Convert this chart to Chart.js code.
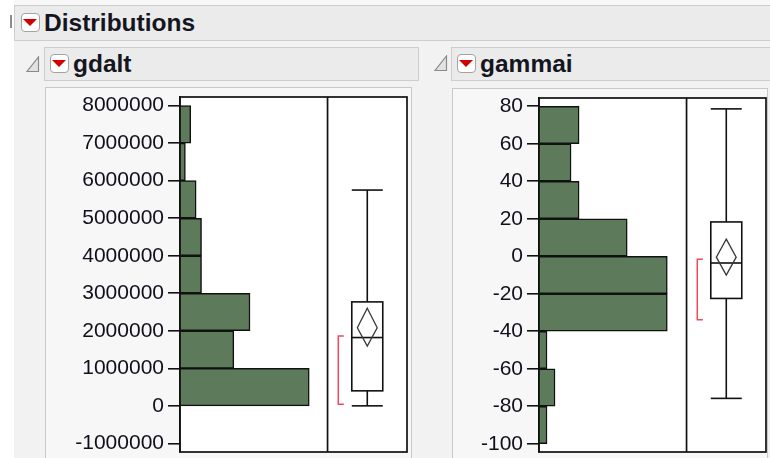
<!DOCTYPE html>
<html>
<head>
<meta charset="utf-8">
<script src="https://cdn.jsdelivr.net/npm/chart.js@4.4.0/dist/chart.umd.min.js"></script>
<style>
  html, body { margin: 0; padding: 0; }
  body {
    width: 770px; height: 458px; overflow: hidden; position: relative;
    background: #f2f2f2;
    font-family: "Liberation Sans", Arial, sans-serif;
  }
  .strip { position: absolute; left: 0; top: 0; width: 14px; height: 458px; background: #fff; }
  .topstrip { position: absolute; left: 0; top: 0; width: 770px; height: 5px; background: #f7f7f7; }
  .grip { position: absolute; left: 10px; top: 15px; width: 2px; height: 13px; background: #8c8c8c; }
  .hdr {
    position: absolute; box-sizing: border-box;
    background: #ebebeb; border: 1px solid #cdcdcd;
  }
  .title {
    position: absolute; font-weight: bold; font-size: 24.5px; line-height: 25px;
    color: #15151f; white-space: nowrap;
  }
  .menu {
    position: absolute; width: 19px; height: 19px; box-sizing: border-box;
    background: #fff; border: 1px solid #a3a3a3; border-radius: 4px;
  }
  .menu::after {
    content: ""; position: absolute; left: 1px; top: 5px;
    border-left: 7px solid transparent; border-right: 7px solid transparent;
    border-top: 7px solid #d20000;
  }
  .tri { position: absolute; }
  .panel {
    position: absolute; box-sizing: border-box;
    background: #f7f7f7; border: 1px solid #c8c8c8;
  }
  canvas { position: absolute; }
</style>
</head>
<body>
<div class="topstrip"></div>
<div class="strip"></div>
<div class="grip"></div>

<!-- outline headers -->
<div class="hdr" style="left:14px;top:5px;width:770px;height:36px"></div>
<div class="menu" style="left:21px;top:13px"></div>
<div class="title" style="left:44px;top:10px">Distributions</div>

<svg class="tri" style="left:26px;top:56px" width="14" height="17">
  <polygon points="12.5,1 12.5,15.5 1,15.5" fill="#e2e2e2" stroke="#8a8a8a" stroke-width="1.2"/>
</svg>
<div class="hdr" style="left:44px;top:47px;width:375px;height:34px"></div>
<div class="menu" style="left:50px;top:54px"></div>
<div class="title" style="left:73px;top:51px">gdalt</div>

<svg class="tri" style="left:434px;top:55px" width="14" height="17">
  <polygon points="12.5,1 12.5,15.5 1,15.5" fill="#e2e2e2" stroke="#8a8a8a" stroke-width="1.2"/>
</svg>
<div class="hdr" style="left:451px;top:47px;width:330px;height:34px"></div>
<div class="menu" style="left:457px;top:54px"></div>
<div class="title" style="left:480px;top:51px">gammai</div>

<!-- report boxes -->
<div class="panel" style="left:45px;top:87px;width:367px;height:380px"></div>
<div class="panel" style="left:452px;top:88px;width:316px;height:380px"></div>

<canvas id="gdaltChart" width="365" height="370" style="left:46px;top:88px"></canvas>
<canvas id="gammaiChart" width="317" height="369" style="left:453px;top:89px"></canvas>

<script>
// =========================
// DATA
// =========================
// gdalt : histogram bins (lower edge), counts, axis ticks
const gdaltBinStart = [0, 1000000, 2000000, 3000000, 4000000, 5000000, 6000000, 7000000];
const gdaltBinWidth = 1000000;
const gdaltCounts = [24, 10, 13, 4, 4, 3, 1, 2];
const gdaltTicks = [-1000000, 0, 1000000, 2000000, 3000000, 4000000, 5000000, 6000000, 7000000, 8000000];
// lower whisker, Q1, median, Q3, upper whisker
const gdaltQuantiles = [0, 400000, 1820000, 2770000, 5750000];
// lower 95%, mean, upper 95%
const gdaltMeanCI = [1590000, 2080000, 2600000];
const gdaltShortestHalf = [40000, 1860000];

// gammai
const gammaiBinStart = [-100, -80, -60, -40, -20, 0, 20, 40, 60];
const gammaiBinWidth = 20;
const gammaiCounts = [1, 2, 1, 16, 16, 11, 5, 4, 5];
const gammaiTicks = [-100, -80, -60, -40, -20, 0, 20, 40, 60, 80];
const gammaiQuantiles = [-75.8, -22.5, -3.6, 18.3, 78.6];
const gammaiMeanCI = [-10.1, -0.5, 9.1];
const gammaiShortestHalf = [-33.9, -1.6];

const BAR_FILL = "#5d7a5b";
const INK = "#111111";
const HIST_FRACTION = 0.65; // histogram part of the frame, box plot takes the rest

// =========================
// BOX PLOT + FRAME
// =========================
const outlierBoxPlugin = {
    id: "outlierBox",
    beforeDraw(chart) {
        // white plot area
        const a = chart.chartArea;
        chart.ctx.save();
        chart.ctx.fillStyle = "#ffffff";
        chart.ctx.fillRect(a.left, a.top, a.right - a.left, a.bottom - a.top);
        chart.ctx.restore();
    },
    afterDatasetsDraw(chart, args, opts) {
        const ctx = chart.ctx;
        const a = chart.chartArea;
        const x = chart.scales.x;
        const y = chart.scales.y;

        const divX = x.getPixelForValue(opts.countMax);
        const w = a.right - divX;
        const cx = divX + w * 0.5;
        const half = w * 0.195;
        const [lo, q1, med, q3, hi] = opts.quantiles.map(v => y.getPixelForValue(v));

        const seg = (x1, y1, x2, y2) => {
            ctx.beginPath();
            ctx.moveTo(x1, y1);
            ctx.lineTo(x2, y2);
            ctx.stroke();
        };

        ctx.save();
        ctx.strokeStyle = INK;
        ctx.lineWidth = 1.7;

        // frame and divider
        ctx.strokeRect(a.left, a.top, a.right - a.left, a.bottom - a.top);
        seg(divX, a.top, divX, a.bottom);

        // whiskers with caps
        ctx.lineWidth = 1.6;
        seg(cx, hi, cx, q3);
        seg(cx, q1, cx, lo);
        seg(cx - half, hi, cx + half, hi);
        seg(cx - half, lo, cx + half, lo);

        // box and median
        ctx.strokeRect(cx - half, q3, half * 2, q1 - q3);
        seg(cx - half, med, cx + half, med);

        // means diamond
        const [ciLo, mean, ciHi] = opts.meanCI.map(v => y.getPixelForValue(v));
        const dw = w * 0.125;
        ctx.strokeStyle = "#383838";
        ctx.lineWidth = 1.3;
        ctx.beginPath();
        ctx.moveTo(cx, ciHi);
        ctx.lineTo(cx + dw, mean);
        ctx.lineTo(cx, ciLo);
        ctx.lineTo(cx - dw, mean);
        ctx.closePath();
        ctx.stroke();

        // shortest half bracket
        const [sLo, sHi] = opts.shortestHalf.map(v => y.getPixelForValue(v));
        const bx = divX + w * 0.135;
        const bx2 = divX + w * 0.205;
        ctx.strokeStyle = "#f0485c";
        ctx.lineWidth = 1.5;
        ctx.beginPath();
        ctx.moveTo(bx2, sHi);
        ctx.lineTo(bx, sHi);
        ctx.lineTo(bx, sLo);
        ctx.lineTo(bx2, sLo);
        ctx.stroke();

        ctx.restore();
    }
};

// =========================
// ONE DISTRIBUTION PANEL
// =========================
function makeDistribution(canvasId, cfg) {
    const ctx = document.getElementById(canvasId).getContext("2d");

    const points = cfg.counts.map((c, i) => ({
        x: c,
        y: cfg.binStart[i] + cfg.binWidth / 2
    }));

    return new Chart(ctx, {
        type: "bar",
        data: {
            datasets: [{
                data: points,
                backgroundColor: BAR_FILL,
                borderColor: INK,
                borderWidth: 1.5,
                barPercentage: 1,
                categoryPercentage: 1
            }]
        },
        plugins: [outlierBoxPlugin],
        options: {
            indexAxis: "y",
            responsive: false,
            animation: false,
            events: [],
            layout: { padding: cfg.padding },
            plugins: {
                legend: { display: false },
                tooltip: { enabled: false },
                outlierBox: {
                    countMax: cfg.countMax,
                    quantiles: cfg.quantiles,
                    meanCI: cfg.meanCI,
                    shortestHalf: cfg.shortestHalf
                }
            },
            scales: {
                x: {
                    type: "linear",
                    display: false,
                    min: 0,
                    max: cfg.countMax / HIST_FRACTION
                },
                y: {
                    type: "linear",
                    offset: false,
                    min: cfg.min,
                    max: cfg.max,
                    afterBuildTicks: s => { s.ticks = cfg.ticks.map(v => ({ value: v })); },
                    afterFit: s => {
                        s.width = cfg.axisWidth;
                        s.paddingTop = 0;
                        s.paddingBottom = 0;
                    },
                    grid: {
                        offset: false,
                        drawOnChartArea: false,
                        drawTicks: true,
                        tickLength: 12,
                        color: INK,
                        lineWidth: 1.6
                    },
                    border: { display: true, color: INK, width: 1.6 },
                    ticks: {
                        padding: 4,
                        color: "#10101c",
                        font: { family: "'Liberation Sans', Arial, sans-serif", size: 21 },
                        callback: v => String(v)
                    }
                }
            }
        }
    });
}

makeDistribution("gdaltChart", {
    binStart: gdaltBinStart,
    binWidth: gdaltBinWidth,
    counts: gdaltCounts,
    ticks: gdaltTicks,
    quantiles: gdaltQuantiles,
    meanCI: gdaltMeanCI,
    shortestHalf: gdaltShortestHalf,
    min: -1230000,
    max: 8230000,
    countMax: 27.4,
    axisWidth: 134,
    padding: { left: 0, top: 9, right: 4, bottom: 6 }
});

makeDistribution("gammaiChart", {
    binStart: gammaiBinStart,
    binWidth: gammaiBinWidth,
    counts: gammaiCounts,
    ticks: gammaiTicks,
    quantiles: gammaiQuantiles,
    meanCI: gammaiMeanCI,
    shortestHalf: gammaiShortestHalf,
    min: -104.4,
    max: 84.4,
    countMax: 18.4,
    axisWidth: 86,
    padding: { left: 0, top: 9, right: 4, bottom: 6 }
});
</script>
</body>
</html>
